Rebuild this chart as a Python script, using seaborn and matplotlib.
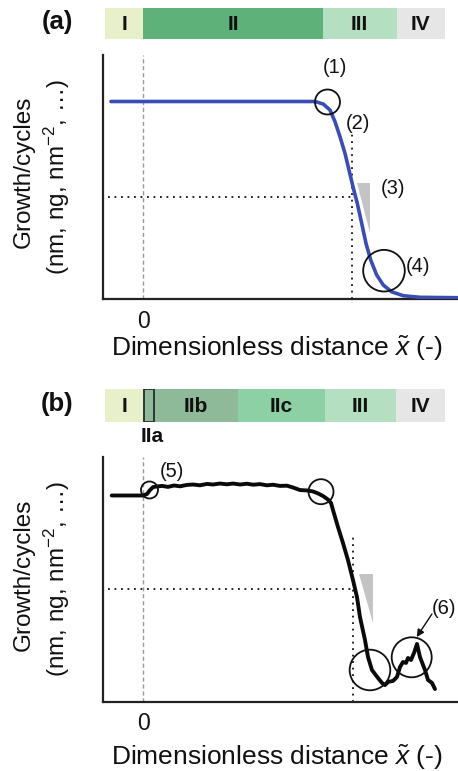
import matplotlib
matplotlib.use("Agg")
import matplotlib.pyplot as plt
from matplotlib.patches import Ellipse, Polygon, Rectangle
import seaborn as sns
import pandas as pd

# ---------------------------------------------------------------- data
# (a) idealised growth-per-cycle profile along the dimensionless distance
ideal_x = [-0.155, 0.0, 0.272, 0.559, 0.751, 0.823, 0.8625, 0.8946, 0.9186,
           0.9425, 0.9665, 0.9856, 1.0048, 1.0254, 1.0465, 1.0671, 1.0896,
           1.1183, 1.150, 1.190, 1.246, 1.326, 1.508]
ideal_y = [1.0, 1.0, 1.0, 1.0, 1.0, 1.0, 0.987, 0.957, 0.898,
           0.822, 0.738, 0.654, 0.569, 0.485, 0.384, 0.283, 0.199,
           0.123, 0.072, 0.038, 0.018, 0.010, 0.008]

# (b) measured profile
meas_x = [-0.1514, 0.0, 0.0177, 0.0321, 0.0465, 0.0656, 0.0896, 0.1183,
          0.1471, 0.1758, 0.2094, 0.2381, 0.2717, 0.3052, 0.3340, 0.3675,
          0.4011, 0.4298, 0.4634, 0.4969, 0.5257, 0.5592, 0.5927, 0.6215,
          0.6550, 0.6886, 0.7173, 0.7508, 0.7844, 0.8132, 0.8371, 0.8610,
          0.8850, 0.8994, 0.9090, 0.9329, 0.9569, 0.9808, 1.0048, 1.0240,
          1.0383, 1.0623, 1.0767, 1.0958, 1.1246, 1.1437, 1.1581, 1.1725,
          1.1965, 1.2156, 1.2300, 1.2444, 1.2588, 1.2683, 1.2827, 1.2971,
          1.3114, 1.3258, 1.3498, 1.3642, 1.3833, 1.3977]
meas_y = [1.0425, 1.0425, 1.050, 1.070, 1.085, 1.088, 1.091, 1.086,
          1.093, 1.089, 1.096, 1.098, 1.094, 1.101, 1.098, 1.103,
          1.099, 1.103, 1.098, 1.102, 1.097, 1.100, 1.094, 1.097,
          1.091, 1.092, 1.083, 1.070, 1.068, 1.063, 1.053, 1.040,
          1.022, 1.005, 0.969, 0.883, 0.802, 0.716, 0.615, 0.529,
          0.428, 0.312, 0.226, 0.160, 0.120, 0.095, 0.084, 0.100,
          0.105, 0.125, 0.175, 0.201, 0.196, 0.221, 0.211, 0.246,
          0.292, 0.226, 0.160, 0.110, 0.095, 0.064]

# regime bands: labels, start and end on the same x scale
bands_a_labels = ["I", "II", "III", "IV"]
bands_a_start = [-0.1835, 0.0, 0.8596, 1.2142]
bands_a_end = [0.0, 0.8596, 1.2142, 1.4456]

bands_b_labels = ["I", "", "IIb", "IIc", "III", "IV"]
bands_b_start = [-0.1835, 0.005, 0.050, 0.4552, 0.8706, 1.2108]
bands_b_end = [0.005, 0.050, 0.4552, 0.8706, 1.2108, 1.4456]

xtick_vals = [0]
xtick_labels = ["0"]

# ---------------------------------------------------------------- style
sns.set_theme(style="white")
plt.rcParams["font.family"] = ["Liberation Sans", "DejaVu Sans"]
plt.rcParams["mathtext.fontset"] = "custom"
plt.rcParams["mathtext.rm"] = "Liberation Sans"
plt.rcParams["mathtext.it"] = "Liberation Sans:italic"
plt.rcParams["mathtext.bf"] = "Liberation Sans:bold"

W, H = 458, 771
fig = plt.figure(figsize=(W / 100, H / 100), dpi=100)


def frac(x0, y0, x1, y1):
    """Rectangle given by pixel corners -> figure fraction box."""
    return [x0 / W, 1 - y1 / H, (x1 - x0) / W, (y1 - y0) / H]


XMIN, XMAX = -0.1931, 1.508
PX_X, PX_Y = 208.7, 197.8   # pixels per data unit

band_colors = {"I": "#e7f0ca", "II": "#5eb179", "IIa": "#8fba9a",
               "IIb": "#8fba9a", "IIc": "#8dd0a4", "III": "#b4dfc0",
               "IV": "#e6e6e6"}

dot_kw = dict(color="#111111", lw=1.3, ls=(0, (1, 2.6)))
INK = "#111111"
XLABEL = r"Dimensionless distance $\tilde{x}$ (-)"


def circle(ax, x, y, r):
    ax.add_patch(Ellipse((x, y), 2 * r / PX_X, 2 * r / PX_Y, fill=False,
                         ec=INK, lw=1.3, zorder=4, clip_on=False))


def style_main(ax, ytop):
    ax.set_xlim(XMIN, XMAX)
    ax.set_ylim(0, ytop)
    ax.set_yticks([])
    ax.set_xticks(xtick_vals, xtick_labels)
    ax.tick_params(axis="x", length=0, labelsize=16.5, pad=7.5,
                   labelcolor=INK)
    for s in ["top", "right"]:
        ax.spines[s].set_visible(False)
    for s in ["left", "bottom"]:
        ax.spines[s].set_color("#222222")
        ax.spines[s].set_linewidth(1.6)
    ax.set_xlabel("")
    ax.set_ylabel("")
    ax.axvline(0, color="#9a9a9a", lw=1.0, ls=(0, (3, 2)), zorder=1)


def draw_bands(bax, labels, starts, ends, names):
    bax.set_xlim(XMIN, XMAX)
    bax.set_ylim(0, 1)
    bax.axis("off")
    for lab, s, e, nm in zip(labels, starts, ends, names):
        bax.barh(0.5, e - s, left=s, height=1.0, color=band_colors[nm],
                 edgecolor="none")
        if lab:
            bax.text((s + e) / 2, 0.47, lab, ha="center", va="center",
                     fontsize=15, fontweight="bold", color=INK)


# ---------------------------------------------------------------- panel (a)
ax_a = fig.add_axes(frac(103, 55, 458, 299.3))
ytop_a = 244.3 / PX_Y
df_a = pd.DataFrame({"x": ideal_x, "y": ideal_y})
sns.lineplot(data=df_a, x="x", y="y", ax=ax_a, color="#3a4db3", lw=2.6,
             sort=False, estimator=None, zorder=3)
style_main(ax_a, ytop_a)

ax_a.plot([1.0, 1.0], [0, 0.856], **dot_kw)
ax_a.plot([-0.169, 1.0], [0.5187, 0.5187], **dot_kw)
ax_a.add_patch(Polygon([(1.0240, 0.5865), (1.0886, 0.5865), (1.0886, 0.3352)],
                       closed=True, fc="#c4c4c4", ec="none", zorder=2))
circle(ax_a, 0.8826, 0.9975, 12.5)
circle(ax_a, 1.1533, 0.1446, 20.8)
for txt, x, y in [("(1)", 0.9186, 1.1699), ("(2)", 1.0302, 0.8898),
                  ("(3)", 1.1950, 0.5612), ("(4)", 1.3177, 0.1648)]:
    ax_a.text(x, y, txt, ha="center", va="center", fontsize=14.5, color=INK)

bax_a = fig.add_axes(frac(103, 8.3, 458, 39.3))
draw_bands(bax_a, bands_a_labels, bands_a_start, bands_a_end,
           ["I", "II", "III", "IV"])

# ---------------------------------------------------------------- panel (b)
ax_b = fig.add_axes(frac(103, 457, 458, 701.7))
ytop_b = 244.7 / PX_Y
df_b = pd.DataFrame({"x": meas_x, "y": meas_y})
sns.lineplot(data=df_b, x="x", y="y", ax=ax_b, color="#0a0a0a", lw=2.8,
             sort=False, estimator=None, zorder=3)
style_main(ax_b, ytop_b)

ax_b.plot([1.0034, 1.0034], [0, 0.8327], **dot_kw)
ax_b.plot([-0.169, 1.0034], [0.5698, 0.5698], **dot_kw)
ax_b.add_patch(Polygon([(1.035, 0.6441), (1.0992, 0.6441), (1.0992, 0.3979)],
                       closed=True, fc="#c4c4c4", ec="none", zorder=2))
circle(ax_b, 0.0297, 1.0703, 8.5)
circle(ax_b, 0.8515, 1.0617, 12.5)
circle(ax_b, 1.0862, 0.1603, 20.3)
circle(ax_b, 1.2861, 0.2245, 20)
ax_b.text(0.1361, 1.1628, "(5)", ha="center", va="center", fontsize=14.5,
          color=INK)
ax_b.text(1.4420, 0.4737, "(6)", ha="center", va="center", fontsize=14.5,
          color=INK, clip_on=False)
ax_b.annotate("", xy=(1.3100, 0.3271), xytext=(1.3830, 0.4434),
              annotation_clip=False,
              arrowprops=dict(arrowstyle="-|>", color=INK, lw=1.0,
                              shrinkA=0, shrinkB=0, mutation_scale=11))

bax_b = fig.add_axes(frac(103, 389, 458, 422))
draw_bands(bax_b, bands_b_labels, bands_b_start, bands_b_end,
           ["I", "IIa", "IIb", "IIc", "III", "IV"])
bax_b.add_patch(Rectangle((bands_b_start[1], 0.0),
                          bands_b_end[1] - bands_b_start[1], 1.0,
                          fill=False, ec="#333333", lw=1.4, zorder=3))

# ---------------------------------------------------------------- labels
fig.text(152 / W, 1 - 436 / H, "IIa", ha="center", va="center",
         fontsize=15, fontweight="bold", color=INK)
fig.text(57 / W, 1 - 22 / H, "(a)", ha="center", va="center",
         fontsize=18.5, fontweight="bold", color=INK)
fig.text(57 / W, 1 - 404 / H, "(b)", ha="center", va="center",
         fontsize=18.5, fontweight="bold", color=INK)

for yc in [348.5, 757]:
    fig.text(277 / W, 1 - yc / H, XLABEL, ha="center", va="center",
             fontsize=19, color=INK)

for yc in [(55 + 299.3) / 2, (457 + 701.7) / 2]:
    fig.text(24 / W, 1 - (yc - 5) / H, "Growth/cycles", rotation=90,
             ha="center", va="center", fontsize=17.5, color=INK)
    fig.text(57 / W, 1 - yc / H, r"(nm, ng, nm$^{-2}$, …)", rotation=90,
             ha="center", va="center", fontsize=17.5, color=INK)

fig.savefig("out.png", dpi=100)
